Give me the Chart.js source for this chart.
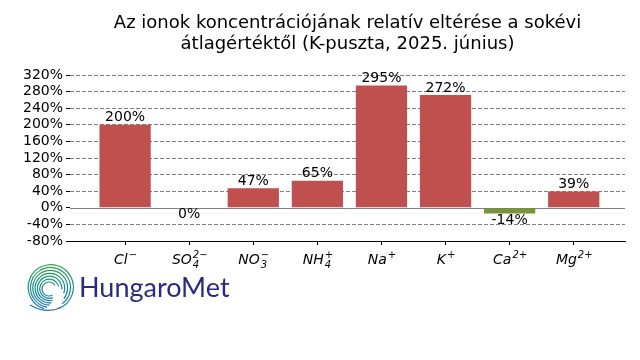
<!DOCTYPE html>
<html lang="hu">

<head>
    <meta charset="UTF-8">
    <title>Ionok eltérése</title>
    <script src="https://cdn.jsdelivr.net/npm/chart.js"></script>
    <style>
        body { margin: 0; background: #fff; }
    </style>
</head>

<body>
    <canvas id="myChart" width="640" height="360"></canvas>

    <script>
        // ionok (alap, alsó index, felső index)
        const ionBase = ['Cl', 'SO', 'NO', 'NH', 'Na', 'K', 'Ca', 'Mg']
        const ionSub = ['', '4', '3', '4', '', '', '', '']
        const ionSup = ['\u2212', '2\u2212', '\u2212', '+', '+', '+', '2+', '2+']
        // eltérés a sokévi átlagtól, %
        const deviation = [200, 0, 47, 65, 295, 272, -14, 39]
        const yTicks = [-80, -40, 0, 40, 80, 120, 160, 200, 240, 280, 320]
        const titleLines = ['Az ionok koncentrációjának relatív eltérése a sokévi', 'átlagértéktől (K-puszta, 2025. június)']

        const red = '#c0504d'
        const green = '#77933c'
        const font = "'DejaVu Sans', sans-serif"

        // cím a rajzterület fölött középre
        const titlePlugin = {
            id: 'titlePlugin',
            afterDraw(chart) {
                const ctx = chart.ctx
                const cx = (chart.chartArea.left + chart.chartArea.right) / 2
                ctx.save()
                ctx.font = '18px ' + font
                ctx.fillStyle = '#000'
                ctx.textAlign = 'center'
                ctx.textBaseline = 'middle'
                titleLines.forEach((t, i) => ctx.fillText(t, cx, 23 + i * 21))
                ctx.restore()
            }
        }

        // értékcímkék az oszlopokon
        const valueLabels = {
            id: 'valueLabels',
            afterDatasetsDraw(chart) {
                const ctx = chart.ctx
                const meta = chart.getDatasetMeta(0)
                ctx.save()
                ctx.font = '14px ' + font
                ctx.fillStyle = '#000'
                ctx.textAlign = 'center'
                meta.data.forEach((bar, i) => {
                    const v = deviation[i]
                    if (v > 0) {
                        ctx.textBaseline = 'bottom'
                        ctx.fillText(v + '%', bar.x, bar.y)
                    } else {
                        ctx.textBaseline = 'top'
                        ctx.fillText(v + '%', bar.x, bar.y)
                    }
                })
                ctx.restore()
            }
        }

        // nulla vonal
        const zeroLine = {
            id: 'zeroLine',
            beforeDatasetsDraw(chart) {
                const ctx = chart.ctx
                const y = chart.scales.y.getPixelForValue(0)
                ctx.save()
                ctx.strokeStyle = '#808080'
                ctx.lineWidth = 1
                ctx.beginPath()
                ctx.moveTo(chart.chartArea.left, Math.round(y) + 0.5)
                ctx.lineTo(chart.chartArea.right, Math.round(y) + 0.5)
                ctx.stroke()
                ctx.restore()
            }
        }

        // x tengely feliratai indexekkel
        const ionLabels = {
            id: 'ionLabels',
            afterDraw(chart) {
                const ctx = chart.ctx
                const xs = chart.scales.x
                const y = chart.chartArea.bottom + 19
                ctx.save()
                ctx.fillStyle = '#000'
                ctx.textBaseline = 'middle'
                ctx.textAlign = 'left'
                ionBase.forEach((b, i) => {
                    ctx.font = 'italic 14px ' + font
                    const wb = ctx.measureText(b).width
                    ctx.font = 'italic 10px ' + font
                    const ws = Math.max(ctx.measureText(ionSub[i]).width, ctx.measureText(ionSup[i]).width)
                    let x = xs.getPixelForValue(i) - (wb + ws) / 2
                    ctx.font = 'italic 14px ' + font
                    ctx.fillText(b, x, y)
                    ctx.font = 'italic 10px ' + font
                    ctx.fillText(ionSup[i], x + wb + 1, y - 5)
                    if (ionSub[i]) ctx.fillText(ionSub[i], x + wb + 1, y + 5)
                })
                ctx.restore()
            }
        }

        // HungaroMet logó
        const logo = {
            id: 'logo',
            afterDraw(chart) {
                const ctx = chart.ctx
                const cx = 50, cy = 287
                const deg = Math.PI / 180
                ctx.save()
                const grad = ctx.createLinearGradient(0, 263, 0, 312)
                grad.addColorStop(0, '#3aa04a')
                grad.addColorStop(0.45, '#139080')
                grad.addColorStop(1, '#2070b8')
                ctx.strokeStyle = grad
                ctx.lineWidth = 1.2
                for (let k = 0; k < 7; k++) {
                    const r = 7 + k * 2.6
                    const a0 = 60 + k * 8
                    const a1 = 330 + k * 17
                    ctx.beginPath()
                    ctx.arc(cx - 1 + k * 0.3, cy + 2 - k * 0.3, r, a0 * deg, a1 * deg, false)
                    ctx.stroke()
                }
                // farok alul
                ctx.beginPath()
                ctx.moveTo(30, 305)
                ctx.quadraticCurveTo(45, 314, 60, 308)
                ctx.stroke()
                ctx.fillStyle = '#2b2a80'
                ctx.font = "27px 'Lato', sans-serif"
                ctx.textBaseline = 'alphabetic'
                ctx.textAlign = 'left'
                ctx.fillText('HungaroMet', 79, 297)
                ctx.restore()
            }
        }

        const ctx = document.getElementById('myChart').getContext('2d')
        const myChart = new Chart(ctx, {
            type: 'bar',
            data: {
                datasets: [{
                    data: deviation.map((v, i) => ({ x: i, y: v })),
                    backgroundColor: deviation.map(v => v < 0 ? green : red),
                    barPercentage: 0.8,
                    categoryPercentage: 1
                }]
            },
            options: {
                responsive: false,
                animation: false,
                layout: { padding: { left: 0, right: 15, top: 75, bottom: 0 } },
                plugins: {
                    legend: { display: false },
                    tooltip: { enabled: false },
                    title: { display: false }
                },
                scales: {
                    x: {
                        type: 'linear',
                        offset: false,
                        min: -0.86,
                        max: 7.8,
                        afterBuildTicks: s => { s.ticks = ionBase.map((_, i) => ({ value: i })) },
                        afterFit: s => { s.height = 119 },
                        ticks: { callback: () => '', padding: 0, autoSkip: false },
                        grid: { offset: false, drawOnChartArea: false, drawTicks: true, tickLength: 4, tickColor: '#000' },
                        border: { display: true, color: '#000', width: 1 }
                    },
                    y: {
                        min: -80,
                        max: 320,
                        afterBuildTicks: s => { s.ticks = yTicks.map(v => ({ value: v })) },
                        afterFit: s => { s.width = 70 },
                        ticks: {
                            callback: v => v + '%',
                            color: '#000',
                            padding: 3,
                            autoSkip: false,
                            font: { family: font, size: 14 }
                        },
                        grid: {
                            color: c => (c.tick && (c.tick.value === 0 || c.tick.value === -80)) ? 'rgba(0,0,0,0)' : '#808080',
                            tickColor: '#000',
                            tickLength: 4,
                            lineWidth: 1
                        },
                        border: { display: false, dash: [4, 2] }
                    }
                }
            },
            plugins: [titlePlugin, zeroLine, valueLabels, ionLabels, logo]
        })
    </script>
</body>

</html>
